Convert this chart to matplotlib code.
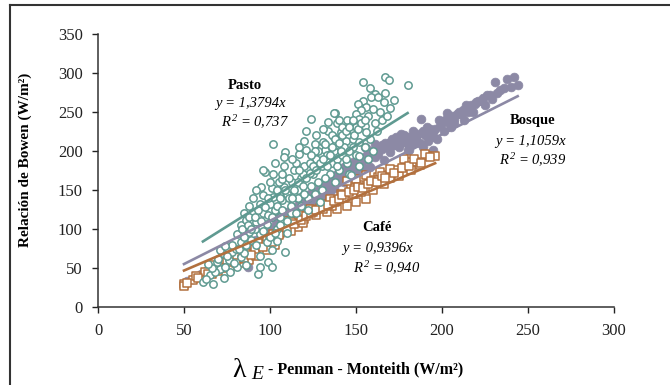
import numpy as np
import matplotlib
matplotlib.use("Agg")
import matplotlib.pyplot as plt
from matplotlib.lines import Line2D

plt.rcParams['font.family'] = ['Liberation Serif', 'DejaVu Serif']
plt.rcParams['mathtext.fontset'] = 'custom'
plt.rcParams['mathtext.it'] = 'Liberation Serif:italic'
plt.rcParams['mathtext.rm'] = 'Liberation Serif:italic'

# Pasto (open circles)
pasto_x = [61, 67, 73, 77, 71, 65, 81, 86, 69, 76, 83, 72, 71, 78, 63, 68, 74, 79, 66, 75, 70, 80, 64,
           93, 99, 101, 94, 85, 94, 101, 109, 83, 89, 98, 81, 88, 94, 83, 86, 92, 98, 85, 90, 96, 88, 94,
           100, 96, 102, 107, 95, 101, 108, 105, 107, 97, 102, 96, 102, 109, 108, 117, 91, 100, 104, 106,
           103, 110, 112, 105, 110, 113, 88, 92, 104, 96, 90, 85, 112, 108, 114, 100, 103,
           124, 120, 126, 131, 121, 132, 137, 138, 134, 139, 116, 118, 120, 122, 125, 127, 115, 118, 124,
           128, 130, 133, 126, 130, 135, 136, 132, 128, 122, 116, 119, 123, 139, 137, 134, 140, 138, 129,
           111, 113, 117, 121, 127, 131,
           154, 167, 169, 180, 167, 161, 159, 163, 154, 156, 151, 153, 160, 137, 150, 157, 161, 152, 145,
           140, 148, 155, 148, 156, 141, 136, 144, 148, 152, 132, 138, 148, 142, 145, 150, 155, 158, 162,
           165, 170, 172, 160, 146, 152, 143, 164, 157, 150, 166, 142, 168, 158, 152, 147,
           84, 87, 91, 93, 97, 99, 104, 106, 109, 111, 114, 116, 119, 121, 123, 125, 127, 129, 131, 133,
           135, 136, 138, 140, 142, 144, 146, 148, 149, 151, 153, 155, 146, 144, 141, 139, 126, 124, 117,
           113, 107, 101, 95, 89, 86, 82, 78, 74, 103, 106, 110, 115, 120, 107, 104, 99, 92]
pasto_y = [32, 30, 37, 45, 49, 41, 52, 54, 58, 60, 64, 69, 73, 71, 36, 45, 52, 57, 50, 66, 62, 75, 55,
           43, 58, 52, 52, 69, 66, 73, 71, 83, 86, 83, 94, 96, 94, 105, 111, 109, 107, 120, 122, 120, 130, 132,
           132, 143, 141, 137, 154, 152, 154, 160, 164, 173, 171, 175, 209, 198, 192, 196, 100, 90, 100, 115,
           125, 110, 130, 145, 145, 160, 115, 80, 85, 98, 140, 90, 120, 180, 175, 160, 185,
           241, 213, 209, 211, 201, 201, 218, 249, 237, 235, 150, 165, 180, 140, 170, 190, 185, 130, 155,
           160, 180, 195, 145, 150, 170, 185, 165, 200, 125, 140, 170, 185, 190, 200, 225, 175, 160, 135,
           165, 190, 205, 225, 220, 228,
           288, 294, 291, 284, 274, 273, 269, 269, 264, 256, 260, 252, 254, 249, 247, 245, 235, 241, 239,
           239, 235, 232, 226, 224, 224, 220, 213, 215, 211, 209, 207, 205, 195, 185, 195, 205, 215, 225,
           240, 255, 265, 200, 170, 180, 205, 250, 190, 230, 262, 230, 245, 280, 194, 169,
           100, 105, 115, 125, 128, 118, 130, 140, 150, 140, 150, 160, 155, 165, 172, 180, 175, 185, 190, 180,
           195, 205, 215, 210, 220, 225, 230, 240, 220, 228, 235, 240, 200, 190, 200, 180, 200, 195, 175,
           140, 125, 115, 110, 100, 80, 75, 80, 78, 95, 105, 95, 120, 145, 170, 150, 140, 150]

# Bosque (filled circles)
bosque_x = [50, 52, 55, 58, 60, 63, 65, 68, 70, 72, 75, 78, 80, 82, 85, 87, 87, 88, 90, 92, 95, 97, 100,
            102, 103, 105, 107, 110, 110, 112,
            114, 117, 120, 123, 125, 129, 131, 133, 137, 139, 143, 143, 148, 148, 152, 156, 158, 161, 166,
            170, 176, 180, 185, 162, 156, 155, 174, 191, 147, 141, 135, 125, 116, 118, 121, 127, 130, 134,
            138, 140, 145, 150, 153, 157, 160, 163, 165, 168, 172, 175, 178, 182, 150, 154, 146, 136, 128,
            174, 180, 185, 190, 195, 199, 204, 207, 211, 216, 219, 223, 228, 232, 226, 221, 214, 209, 203,
            188, 193, 181, 170, 195, 189, 231, 238, 242, 244, 197, 201, 205, 213, 218, 225, 236, 240, 183,
            187, 192, 198, 207,
            105, 108, 112, 115, 119, 122, 124, 126, 129, 131, 133, 135, 137, 140, 142, 144, 146, 149, 151,
            153, 155, 157, 159, 161, 163, 165, 167, 169, 171, 173, 176, 178, 180, 183, 186, 189, 191, 194,
            196, 200, 202, 206, 210, 212, 215, 217, 220, 224, 229, 234]
bosque_y = [30, 33, 36, 40, 42, 47, 50, 52, 55, 60, 63, 66, 70, 73, 75, 62, 52, 80, 84, 86, 90, 95, 98,
            103, 113, 108, 112, 118, 122, 115,
            122, 137, 128, 145, 135, 154, 143, 162, 152, 171, 160, 179, 186, 169, 192, 203, 179, 209, 188,
            211, 222, 201, 220, 200, 194, 205, 215, 220, 171, 162, 146, 130, 122, 128, 133, 140, 148, 155,
            160, 166, 175, 180, 185, 190, 195, 196, 202, 205, 208, 205, 212, 213, 172, 178, 182, 165, 145,
            207, 209, 215, 220, 224, 232, 235, 241, 247, 256, 260, 264, 271, 274, 271, 264, 258, 247, 249,
            241, 228, 201, 198, 201, 205, 288, 292, 295, 284, 215, 225, 230, 240, 250, 258, 280, 282, 225,
            210, 212, 240, 235,
            115, 118, 124, 128, 133, 138, 142, 147, 150, 155, 150, 158, 163, 170, 173, 168, 176, 178, 185,
            190, 188, 197, 200, 192, 205, 208, 210, 203, 215, 218, 210, 220, 218, 210, 222, 225, 230, 218,
            228, 236, 240, 244, 250, 252, 250, 258, 262, 268, 266, 278]

# Café (open squares)
cafe_x = [50, 50, 55, 60, 66, 70, 77, 83, 88, 92, 98, 103, 67, 73, 79, 86, 91, 98, 102, 113, 117, 123,
          130, 135, 141, 147, 152, 158, 163, 169, 174, 179, 185, 191, 196, 156, 150, 145, 139, 133, 127,
          120, 116, 180, 170, 164, 156, 150, 145, 190, 178, 106, 109, 111, 95, 100, 108, 125, 138, 143,
          160, 166, 175, 182, 187, 57, 62, 75, 81, 84, 93, 104, 112, 119, 129, 136, 148, 153, 161, 170,
          52, 58, 64, 68, 72, 80, 85, 89, 96, 101, 105, 110, 114, 118, 121, 124, 127, 131, 134, 137,
          140, 142, 146, 149, 151, 154, 157, 159, 162, 165, 167, 172, 177, 181, 184, 188, 193]
cafe_y = [30, 27, 35, 39, 43, 47, 52, 56, 60, 66, 73, 79, 54, 56, 60, 69, 75, 86, 94, 109, 118, 126,
          132, 139, 145, 152, 156, 160, 166, 169, 175, 181, 186, 194, 194, 139, 135, 130, 126, 122, 118,
          113, 103, 186, 177, 173, 169, 164, 162, 196, 189, 95, 100, 105, 80, 88, 110, 122, 135, 140,
          150, 158, 168, 176, 182, 40, 45, 58, 64, 62, 82, 90, 98, 108, 127, 130, 145, 148, 163, 165,
          31, 37, 42, 48, 50, 57, 63, 67, 77, 84, 92, 102, 106, 112, 117, 120, 125, 126, 131, 136,
          138, 144, 148, 150, 154, 152, 158, 162, 160, 168, 165, 172, 178, 180, 190, 185, 192]

slopes = {"Pasto": 1.3794, "Bosque": 1.1059, "Cafe": 0.9396}

c_pasto = '#5f9a91'
c_bosque = '#8c89a5'
c_cafe = '#b2703e'

fig = plt.figure(figsize=(6.7, 3.85), dpi=100)
ax = fig.add_axes([98 / 670, 77.7 / 385, 516 / 670, 273.8 / 385])

ax.scatter(bosque_x, bosque_y, s=40, color=c_bosque, edgecolors=c_bosque, linewidths=0.5, zorder=2)
ax.scatter(cafe_x, cafe_y, s=34, marker='s', facecolors='white', edgecolors=c_cafe, linewidths=1.1, zorder=3)
ax.scatter(pasto_x, pasto_y, s=28, marker='o', facecolors='white', edgecolors=c_pasto, linewidths=1.1, zorder=4)

# trend lines through origin, over each series' x range
for xs, k, col in [(pasto_x, slopes["Pasto"], c_pasto),
                   (bosque_x, slopes["Bosque"], c_bosque),
                   (cafe_x, slopes["Cafe"], c_cafe)]:
    xl = np.array([min(xs), max(xs)])
    ax.plot(xl, k * xl, color=col, lw=1.9, zorder=5)

ax.set_xlim(0, 300)
ax.set_ylim(0, 350)
ax.set_xticks(range(0, 301, 50))
ax.set_yticks(range(0, 351, 50))
ax.tick_params(direction='out', length=4, width=1, labelsize=12, colors='#222222', pad=7)
for s in ['top', 'right']:
    ax.spines[s].set_visible(False)
for s in ['left', 'bottom']:
    ax.spines[s].set_color('#333333')
    ax.spines[s].set_linewidth(1.1)

# annotations
ax.text(85.5, 283.5, "Pasto", ha='center', va='center', fontsize=10.5, fontweight='bold')
ax.text(88.4, 260.5, "y = 1,3794x", ha='center', va='center', fontsize=10.5, style='italic')
ax.text(91.3, 236, r"$R^{2}$ = 0,737", ha='center', va='center', fontsize=10.5, style='italic')

ax.text(252.7, 239, "Bosque", ha='center', va='center', fontsize=10.5, fontweight='bold')
ax.text(251.7, 212, "y = 1,1059x", ha='center', va='center', fontsize=10.5, style='italic')
ax.text(252.7, 188, r"$R^{2}$ = 0,939", ha='center', va='center', fontsize=10.5, style='italic')

ax.text(162, 102.6, "Café", ha='center', va='center', fontsize=10.5, fontweight='bold')
ax.text(162.8, 75.6, "y = 0,9396x", ha='center', va='center', fontsize=10.5, style='italic')
ax.text(168, 50, r"$R^{2}$ = 0,940", ha='center', va='center', fontsize=10.5, style='italic')

# axis titles
fig.text(25 / 670, 1 - 160 / 385, "Relación de Bowen (W/m²)", rotation=90, ha='center', va='center',
         fontsize=11, fontweight='bold')
fig.text(232 / 670, 1 - 377 / 385, "λ", fontsize=20, ha='left', va='baseline')
fig.text(251 / 670, 1 - 379 / 385, "E", fontsize=14, style='italic', ha='left', va='baseline')
fig.text(268 / 670, 1 - 373 / 385, "- Penman - Monteith (W/m²)", fontsize=11.5, fontweight='bold',
         ha='left', va='baseline')

# chart area border (top and left edges visible)
fig.add_artist(Line2D([10 / 670, 10 / 670], [0, 1 - 5 / 385], transform=fig.transFigure, color='#333333', lw=1.5))
fig.add_artist(Line2D([10 / 670, 1], [1 - 5 / 385, 1 - 5 / 385], transform=fig.transFigure, color='#333333', lw=1.5))

fig.savefig("out.png", dpi=100)
